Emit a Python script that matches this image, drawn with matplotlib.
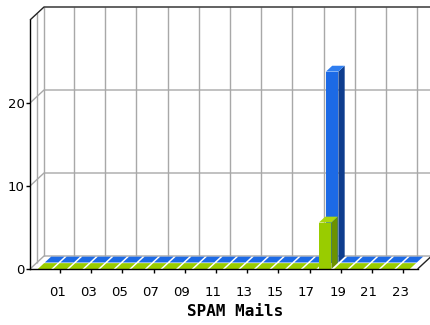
import matplotlib.pyplot as plt
from matplotlib.patches import Polygon
from matplotlib.transforms import ScaledTranslation

# hourly data (00..23)
hours = [0, 1, 2, 3, 4, 5, 6, 7, 8, 9, 10, 11,
         12, 13, 14, 15, 16, 17, 18, 19, 20, 21, 22, 23]
spam_back = [0, 0, 0, 0, 0, 0, 0, 0, 0, 0, 0, 0,
             0, 0, 0, 0, 0, 0, 23, 0, 0, 0, 0, 0]
spam_front = [0, 0, 0, 0, 0, 0, 0, 0, 0, 0, 0, 0,
              0, 0, 0, 0, 0, 0, 5.6, 0, 0, 0, 0, 0]
tick_hours = [1, 3, 5, 7, 9, 11, 13, 15, 17, 19, 21, 23]
tick_labels = ['01', '03', '05', '07', '09', '11', '13', '15', '17', '19', '21', '23']
y_ticks = [0, 10, 20]

BLUE = ('#1c6ae6', '#2f7ef0', '#0e3d8e')    # front, top, side
GREEN = ('#99cc00', '#aad80c', '#6c9200')
GRID = '#a8a8a8'

W, H = 431, 325
fig = plt.figure(figsize=(W / 100, H / 100), dpi=100, facecolor='white')

# front plane of the 3d box, in pixels
X0, X1 = 30, 417.6
Y0, Y1 = 269, 20
ax = fig.add_axes([X0 / W, (H - Y0) / H, (X1 - X0) / W, (Y0 - Y1) / H])
ax.patch.set_visible(False)
xmin, xmax = -0.93, 23.93
ymax = 30
ax.set_xlim(xmin, xmax)
ax.set_ylim(0, ymax)

# depth of the box (14px right, 13px up) in data units
ddx = 14 / ((X1 - X0) / (xmax - xmin))
ddy = 13 / ((Y0 - Y1) / ymax)
BW = 0.8


def p(x, y, d):
    return (x + d * ddx, y + d * ddy)


def line(pts, color=GRID, lw=1.0, z=1):
    xs, ys = zip(*pts)
    ax.plot(xs, ys, color=color, lw=lw, clip_on=False, zorder=z,
            solid_capstyle='butt')


def face(pts, color, z):
    ax.add_patch(Polygon(pts, closed=True, facecolor=color, edgecolor='none',
                         clip_on=False, zorder=z))


def bar3d(x, v, d0, d1, cols, z, bw=BW):
    l, r = x - bw / 2, x + bw / 2
    front, top, side = cols
    if v > 0:
        face([p(l, 0, d0), p(r, 0, d0), p(r, v, d0), p(l, v, d0)], front, z)
        face([p(r, 0, d0), p(r, 0, d1), p(r, v, d1), p(r, v, d0)], side, z)
    else:
        top = front
    face([p(l, v, d0), p(r, v, d0), p(r, v, d1), p(l, v, d1)], top, z)


# back wall grid
for h in tick_hours:
    line([p(h, 0, 1), p(h, ymax, 1)])
for yv in y_ticks[1:]:
    line([p(xmin, yv, 0), p(xmin, yv, 1), p(xmax, yv, 1)])
line([p(xmin, 0, 1), p(xmin, ymax, 1)])
line([p(xmin, 0, 0.5), p(xmin, ymax, 0.5)])
line([p(xmin, 0, 0), p(xmin, 0, 1), p(xmax, 0, 1)])
# box outline
line([p(xmin, ymax, 0), p(xmin, ymax, 1), p(xmax + 1, ymax, 1)], color='#222222', z=2)
line([p(xmax, 0, 0), p(xmax, 0, 1)], color='#222222', z=2)

# flat (zero) bars first, then the real ones
for vals, cols, d0, d1 in [(spam_back, BLUE, 0.5, 0.95),
                           (spam_front, GREEN, 0.0, 0.45)]:
    for h, v in zip(hours, vals):
        if v == 0:
            bar3d(h, v, d0, d1, cols, 3, bw=0.86)
for vals, cols, d0, d1, z in [(spam_back, BLUE, 0.5, 0.95, 4),
                              (spam_front, GREEN, 0.0, 0.45, 5)]:
    for h, v in zip(hours, vals):
        if v > 0:
            bar3d(h, v, d0, d1, cols, z)

for s in ['top', 'right']:
    ax.spines[s].set_visible(False)
for s in ['left', 'bottom']:
    ax.spines[s].set_color('black')
    ax.spines[s].set_linewidth(1.0)
    ax.spines[s].set_zorder(6)

ax.set_yticks(y_ticks)
ax.set_xticks(tick_hours, tick_labels)
ax.tick_params(axis='both', direction='out', length=3, width=1, labelsize=9.5,
               colors='black')
ax.tick_params(axis='x', pad=9)
ax.tick_params(axis='y', pad=1)
shift = ScaledTranslation(-3 / 100, 0, fig.dpi_scale_trans)
for lab in ax.get_xticklabels():
    lab.set_transform(lab.get_transform() + shift)

fig.text(235 / W, (H - 312) / H, 'SPAM Mails', ha='center', va='center',
         fontsize=11.5, fontweight='bold', family='DejaVu Sans Mono')

fig.savefig('out.png', dpi=100, facecolor='white')
